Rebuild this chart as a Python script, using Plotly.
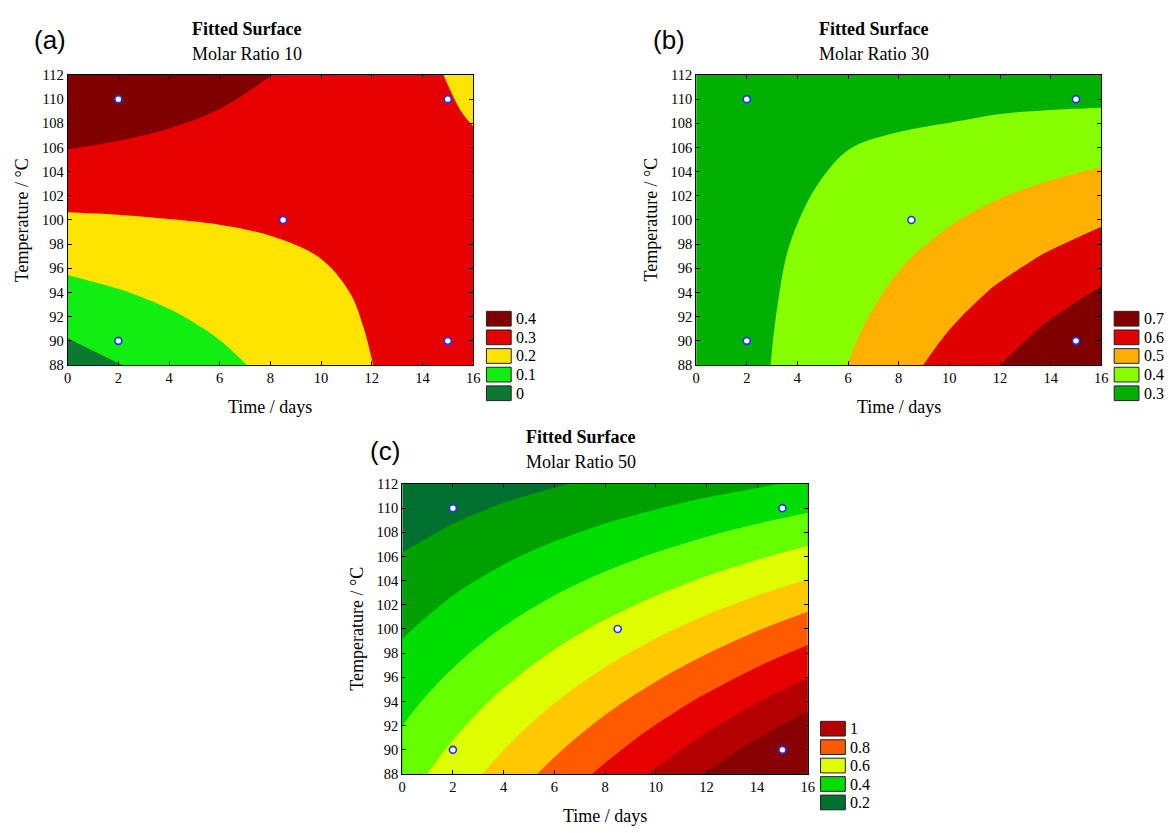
import plotly.graph_objects as go

W, H = 1171, 833

# ---------------- data ----------------
time_days = [0, 2, 4, 6, 8, 10, 12, 14, 16]
temp_c = [88, 91, 94, 97, 100, 103, 106, 109, 112]

# fitted surface, Molar Ratio 10 (rows = temperature, cols = time)
z_ratio10 = [
    [-0.043, -0.003, 0.038, 0.078, 0.119, 0.159, 0.199, 0.240, 0.280],
    [0.015, 0.046, 0.078, 0.110, 0.141, 0.173, 0.205, 0.236, 0.268],
    [0.072, 0.095, 0.118, 0.141, 0.164, 0.187, 0.210, 0.233, 0.256],
    [0.130, 0.144, 0.158, 0.173, 0.187, 0.201, 0.215, 0.229, 0.244],
    [0.188, 0.193, 0.199, 0.204, 0.210, 0.215, 0.221, 0.226, 0.232],
    [0.245, 0.242, 0.239, 0.236, 0.232, 0.229, 0.226, 0.223, 0.219],
    [0.303, 0.291, 0.279, 0.267, 0.255, 0.243, 0.231, 0.219, 0.207],
    [0.360, 0.340, 0.319, 0.298, 0.278, 0.257, 0.237, 0.216, 0.195],
    [0.418, 0.389, 0.359, 0.330, 0.301, 0.271, 0.242, 0.212, 0.183],
]

# fitted surface, Molar Ratio 30
z_ratio30 = [
    [0.203, 0.269, 0.335, 0.401, 0.468, 0.534, 0.600, 0.666, 0.732],
    [0.211, 0.269, 0.326, 0.384, 0.441, 0.499, 0.556, 0.614, 0.671],
    [0.220, 0.269, 0.317, 0.366, 0.415, 0.464, 0.513, 0.561, 0.610],
    [0.228, 0.268, 0.309, 0.349, 0.389, 0.429, 0.469, 0.509, 0.549],
    [0.237, 0.268, 0.299, 0.331, 0.363, 0.394, 0.426, 0.457, 0.489],
    [0.245, 0.268, 0.291, 0.313, 0.336, 0.359, 0.382, 0.405, 0.428],
    [0.253, 0.267, 0.282, 0.299, 0.312, 0.324, 0.338, 0.353, 0.367],
    [0.262, 0.267, 0.273, 0.278, 0.284, 0.289, 0.297, 0.302, 0.306],
    [0.270, 0.267, 0.264, 0.261, 0.258, 0.254, 0.251, 0.248, 0.245],
]

# fitted surface, Molar Ratio 50
z_ratio50 = [
    [0.455, 0.547, 0.639, 0.731, 0.823, 0.914, 1.006, 1.098, 1.190],
    [0.413, 0.497, 0.580, 0.664, 0.747, 0.830, 0.913, 0.997, 1.080],
    [0.372, 0.447, 0.522, 0.597, 0.672, 0.746, 0.821, 0.896, 0.971],
    [0.330, 0.396, 0.463, 0.529, 0.596, 0.662, 0.728, 0.795, 0.861],
    [0.288, 0.346, 0.404, 0.462, 0.520, 0.578, 0.636, 0.694, 0.752],
    [0.246, 0.296, 0.345, 0.395, 0.444, 0.493, 0.543, 0.592, 0.642],
    [0.205, 0.246, 0.287, 0.328, 0.369, 0.409, 0.450, 0.491, 0.532],
    [0.163, 0.195, 0.228, 0.260, 0.293, 0.325, 0.358, 0.390, 0.423],
    [0.121, 0.145, 0.169, 0.193, 0.217, 0.241, 0.265, 0.289, 0.313],
]

# experimental design points
design_time = [2, 2, 15, 15, 8.5]
design_temp = [90, 110, 90, 110, 100]

# contour levels (start, end, step) and band colours (low -> high)
levels_10 = (0.0, 0.3, 0.1)
levels_30 = (0.3, 0.6, 0.1)
levels_50 = (0.2, 1.0, 0.1)
colors_10 = ["#0b7a30", "#12ee12", "#ffe400", "#e60000", "#800000"]
colors_30 = ["#00b000", "#88ff00", "#ffb000", "#e00000", "#800000"]
colors_50 = ["#00702e", "#00a000", "#00dd00", "#66ff00", "#ddff00",
             "#ffc800", "#ff5a00", "#e60000", "#b40000", "#880000"]

# legend entries (label, colour) top -> bottom
legend_10_labels = ["0.4", "0.3", "0.2", "0.1", "0"]
legend_10_colors = ["#800000", "#e60000", "#ffe400", "#12ee12", "#0b7a30"]
legend_30_labels = ["0.7", "0.6", "0.5", "0.4", "0.3"]
legend_30_colors = ["#800000", "#e00000", "#ffb000", "#88ff00", "#00b000"]
legend_50_labels = ["1", "0.8", "0.6", "0.4", "0.2"]
legend_50_colors = ["#b40000", "#ff5a00", "#ddff00", "#00dd00", "#00702e"]

subtitles = ["Molar Ratio 10", "Molar Ratio 30", "Molar Ratio 50"]
panel_tags = ["(a)", "(b)", "(c)"]

# ---------------- layout geometry (pixels) ----------------
panels = [
    dict(x0=64.3, x1=473.6, y0=68.3, y1=364.0),
    dict(x0=698.7, x1=1107.7, y0=68.3, y1=364.0),
    dict(x0=402.0, x1=811.4, y0=485.3, y1=781.0),
]

SERIF = "Liberation Serif, Times New Roman, serif"
SANS = "Liberation Sans, Arial, sans-serif"


def px(x):
    return x / W


def py(y):
    return 1 - y / H


def stepped(colors):
    nc = len(colors) - 1
    scale = []
    for k, c in enumerate(colors):
        lo = max(0.0, (k - 0.5) / nc)
        hi = min(1.0, (k + 0.5) / nc)
        scale.append([lo, c])
        scale.append([hi, c])
    return scale


fig = go.Figure()

surfaces = [(z_ratio10, levels_10, colors_10),
            (z_ratio30, levels_30, colors_30),
            (z_ratio50, levels_50, colors_50)]

for i, (z, lev, cols) in enumerate(surfaces):
    xa = "x" if i == 0 else f"x{i+1}"
    ya = "y" if i == 0 else f"y{i+1}"
    fig.add_trace(go.Contour(
        x=time_days, y=temp_c, z=z,
        xaxis=xa, yaxis=ya,
        autocontour=False,
        contours=dict(start=lev[0], end=lev[1], size=lev[2],
                      coloring="fill", showlines=False),
        colorscale=stepped(cols),
        line=dict(width=0, smoothing=1.0),
        showscale=False,
        hoverinfo="skip",
    ))
    fig.add_trace(go.Scatter(
        x=design_time, y=design_temp, mode="markers",
        xaxis=xa, yaxis=ya,
        marker=dict(symbol="circle", size=7, color="white",
                    line=dict(color="#2030ff", width=1.6)),
        showlegend=False, hoverinfo="skip",
    ))

axis_common = dict(
    showline=True, linecolor="black", linewidth=1, mirror="ticks",
    ticks="inside", ticklen=4, tickwidth=1, tickcolor="black",
    showgrid=False, zeroline=False,
    tickfont=dict(family=SERIF, size=14.5, color="black"),
)

layout_axes = {}
for i, p in enumerate(panels):
    sx = "" if i == 0 else str(i + 1)
    layout_axes[f"xaxis{sx}"] = dict(
        axis_common, domain=[px(p["x0"]), px(p["x1"])],
        range=[0, 16], dtick=2, tick0=0, anchor=f"y{sx}")
    layout_axes[f"yaxis{sx}"] = dict(
        axis_common, domain=[py(p["y1"]), py(p["y0"])],
        range=[88, 112], dtick=2, tick0=88, anchor=f"x{sx}")

fig.update_layout(
    width=W, height=H,
    margin=dict(l=0, r=0, t=0, b=0),
    paper_bgcolor="white", plot_bgcolor="white",
    showlegend=False,
    **layout_axes,
)

annotations = []
shapes = []


def text(x, y, s, size, family=SERIF, anchor="center", angle=0):
    annotations.append(dict(
        x=px(x), y=py(y), xref="paper", yref="paper", text=s,
        showarrow=False, xanchor=anchor, yanchor="middle", textangle=angle,
        font=dict(family=family, size=size, color="black")))


title_pos = [(245, 21, 47), (878, 21, 47), (582, 437, 463)]
tag_pos = [(46, 33), (671, 33), (385, 452)]
for i, p in enumerate(panels):
    tx, ty1, ty2 = title_pos[i]
    text(tx, ty1, "<b>Fitted Surface</b>", 18)
    text(tx, ty2, subtitles[i], 18)
    text(tag_pos[i][0], tag_pos[i][1], panel_tags[i], 26, family=SANS)
    cx = (p["x0"] + p["x1"]) / 2
    cy = (p["y0"] + p["y1"]) / 2
    text(cx, p["y1"] + 43, "Time / days", 18)
    text(p["x0"] - 46, cy, "Temperature / \u00b0C", 18, angle=-90)

legends = [
    (legend_10_labels, legend_10_colors, 487, 309.3, 19.0),
    (legend_30_labels, legend_30_colors, 1120.7, 309.3, 19.0),
    (legend_50_labels, legend_50_colors, 824.3, 727.3, 18.8),
]
for labels, cols, lx, ly, step in legends:
    for k, (lab, col) in enumerate(zip(labels, cols)):
        top = ly + k * step
        shapes.append(dict(
            type="rect", xref="paper", yref="paper",
            x0=px(lx), x1=px(lx + 25), y0=py(top + 15), y1=py(top),
            fillcolor=col, line=dict(color="#222222", width=1)))
        text(lx + 28, top + 7.5, lab, 16, anchor="left")

fig.update_layout(annotations=annotations, shapes=shapes)

fig.write_html(
    "out.html",
    config={"displayModeBar": False, "staticPlot": True},
    post_script="document.body.style.margin='0';"
                "document.body.style.padding='0';"
                "document.body.style.overflow='hidden';",
)
